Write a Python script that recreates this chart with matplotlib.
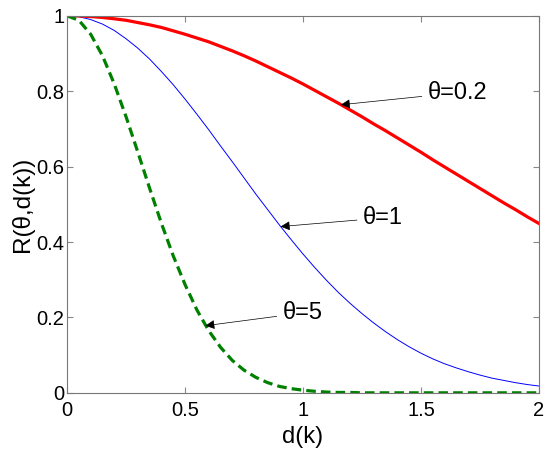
import matplotlib
matplotlib.use("Agg")
import matplotlib.pyplot as plt

plt.rcParams['font.family'] = ['Liberation Sans', 'DejaVu Sans']

d = [i * 0.05 for i in range(41)]

r_02 = [1, .9995, .998, .9955, .992, .988, .982, .976, .969, .960,
        .951, .941, .931, .919, .907, .894, .880, .865, .850, .835,
        .819, .802, .785, .768, .750, .732, .713, .695, .676, .657,
        .638, .618, .599, .580, .561, .542, .523, .504, .486, .467, .449]

r_1 = [1, .9975, .990, .978, .961, .939, .914, .885, .852, .817,
       .779, .739, .698, .655, .613, .570, .527, .486, .445, .406,
       .368, .332, .298, .266, .237, .210, .185, .162, .141, .122,
       .105, .090, .077, .066, .056, .047, .039, .033, .027, .022, .018]

r_5 = [1, .988, .951, .894, .819, .732, .638, .542, .449, .363,
       .287, .220, .165, .121, .086, .060, .041, .027, .017, .011,
       .007, .004, .002, .001, .001, 0, 0, 0, 0, 0,
       0, 0, 0, 0, 0, 0, 0, 0, 0, 0, 0]

labels = ['θ=0.2', 'θ=1', 'θ=5']
tips = [(1.16, 0.764), (0.905, 0.441), (0.586, 0.178)]
text_pos = [(1.53, 0.796), (1.255, 0.464), (0.915, 0.212)]

fig = plt.figure(figsize=(5.5, 4.51), dpi=100)
ax = fig.add_axes([0.122, 0.129, 0.858, 0.836])

ax.plot(d, r_1, color='blue', lw=0.7)
ax.plot(d, r_02, color='red', lw=2.3)
ax.plot(d, r_5, color='green', lw=2.3, ls='--', dashes=(3, 1.6))

for lab, tip, tp in zip(labels, tips, text_pos):
    ax.annotate(lab, xy=tip, xytext=tp, fontsize=17, ha='left', va='center',
                bbox=dict(boxstyle='square,pad=0.15', fc='white', ec='none'),
                arrowprops=dict(arrowstyle='-|>', color='black', lw=0.5,
                                mutation_scale=14, shrinkA=2, shrinkB=0))

ax.set_xlim(0, 2)
ax.set_ylim(0, 1)
ax.set_xticks([0, 0.5, 1, 1.5, 2])
ax.set_xticklabels(['0', '0.5', '1', '1.5', '2'])
ax.set_yticks([0, 0.2, 0.4, 0.6, 0.8, 1])
ax.set_yticklabels(['0', '0.2', '0.4', '0.6', '0.8', '1'])
ax.tick_params(direction='in', top=True, right=True, labelsize=14.5,
               color='#888888', length=4)
ax.tick_params(axis='x', pad=6)
ax.tick_params(axis='y', pad=2)
for s in ax.spines.values():
    s.set_color('#777777')
ax.set_xlabel('d(k)', fontsize=17, labelpad=4)
ax.set_ylabel('R(θ,d(k))', fontsize=17.5, labelpad=2)

fig.savefig('out.png', dpi=100)
